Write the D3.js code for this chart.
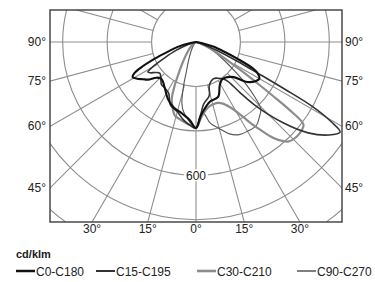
<!DOCTYPE html>
<html><head><meta charset="utf-8">
<script src="https://cdn.jsdelivr.net/npm/d3@7/dist/d3.min.js"></script>
<style>
html,body{margin:0;padding:0;background:#fff;}
svg{display:block;}
text{font-family:"Liberation Sans",Arial,Helvetica,sans-serif;fill:#222;}
</style></head>
<body>
<script>
// ---- data (gamma angle in degrees, intensity cd/klm) ----
const seriesNames = ["C0-C180", "C15-C195", "C30-C210", "C90-C270"];
// right half-planes (C0, C15, C30, C90)
const c0   = [[0,387],[4,330],[13,276],[22,266],[29,221],[35,205],[40,208],[47,232],[52,292],[57,322],[60,329],[63,312],[65,285],[68,200],[71,135],[75,80],[80,25],[86,0]];
const c15  = [[0,387],[4,322],[7,282],[14,248],[17,205],[25,183],[31,190],[36,205],[39,228],[41,300],[43,390],[47,530],[51,650],[55,730],[58,765],[59.5,705],[61,600],[62,455],[63,330],[65,205],[68,105],[72,35],[77,0]];
const c30  = [[0,387],[4,340],[8,310],[12,295],[16,290],[20,292],[24,305],[28,335],[32,395],[34,440],[36,485],[38,535],[40,575],[43,612],[47,622],[50,620],[52.5,610],[54,520],[55,420],[56,340],[57,280],[58,230],[60,160],[63,100],[67,50],[72,15],[78,0]];
const c90  = [[0,387],[3,335],[6,323],[10,371],[15,403],[20,440],[25,460],[30,464],[36,463],[40,443],[44,420],[47,360],[50,290],[53,220],[56,165],[60,115],[65,70],[70,35],[76,8],[82,0]];
// left half-planes (C180, C195, C210, C270)
const c180 = [[0,387],[5,350],[11,328],[19,311],[26,287],[34,251],[40,232],[44,228],[48,240],[52,275],[55,292],[58,312],[61,326],[63,312],[65,275],[68,200],[71,135],[75,85],[80,25],[86,0]];
const c195 = [[0,387],[3,380],[9,356],[15,325],[22,307],[28,262],[34,250],[39,247],[44,228],[49,215],[53,228],[56,248],[58,255],[60,228],[63,160],[67,100],[72,40],[79,0]];
const c210 = [[0,387],[4,375],[8,365],[12,355],[16,345],[20,310],[23,280],[26,220],[29,160],[33,110],[40,60],[50,25],[60,6],[70,0]];
const c270 = [[0,387],[3,370],[6,350],[10,320],[13,283],[16,200],[18,140],[22,90],[30,40],[45,10],[60,0]];
const rightPlanes = [c0, c15, c30, c90];
const leftPlanes  = [c180, c195, c210, c270];
const rings = [200, 400, 600, 800, 1000, 1200];
const ringLabel = 600;
const sideTicks = [90, 75, 60, 45];
const bottomTicks = [-30, -15, 0, 15, 30];
const unitLabel = "cd/klm";

// ---- styles ----
const colors = ["#111", "#333", "#8c8c8c", "#555"];
const widths = [2.1, 1.6, 2.2, 1.1];

const W = 375, H = 282;
const frame = {x0: 50, y0: 10, x1: 342, y1: 222};
const cx = 196, cy = 42;
const rad = Math.PI / 180;
const r = d3.scaleLinear().domain([0, 600]).range([0, 133.3]);
const pt = (g, v) => [cx + r(v) * Math.sin(g * rad), cy + r(v) * Math.cos(g * rad)];

const svg = d3.select("body").append("svg").attr("width", W).attr("height", H);
svg.append("defs").append("clipPath").attr("id", "fc").append("rect")
  .attr("x", frame.x0).attr("y", frame.y0)
  .attr("width", frame.x1 - frame.x0).attr("height", frame.y1 - frame.y0);

const plot = svg.append("g").attr("clip-path", "url(#fc)");
const grid = plot.append("g").attr("stroke", "#8e8e8e").attr("stroke-width", 1.1).attr("fill", "none");
grid.selectAll("circle").data(rings).join("circle")
  .attr("cx", cx).attr("cy", cy).attr("r", d => r(d));
grid.selectAll("line").data(d3.range(0, 360, 15)).join("line")
  .attr("x1", d => pt(d, rings[0])[0]).attr("y1", d => pt(d, rings[0])[1])
  .attr("x2", d => pt(d, 1600)[0]).attr("y2", d => pt(d, 1600)[1]);

// ring label with white background
const lp = pt(0, ringLabel);
plot.append("rect").attr("x", lp[0] - 12).attr("y", lp[1] - 6).attr("width", 24).attr("height", 12).attr("fill", "#fff");
svg.append("text").attr("x", lp[0]).attr("y", lp[1] + 4.5).attr("text-anchor", "middle")
  .attr("font-size", 12).text(ringLabel);

// curves
const line = d3.line().curve(d3.curveCatmullRom.alpha(0.5));
const order = [3, 2, 1, 0];
order.forEach(i => {
  const left = leftPlanes[i].slice().reverse().map(([g, v]) => pt(-g, v));
  const right = rightPlanes[i].slice(1).map(([g, v]) => pt(g, v));
  plot.append("path").attr("d", line(left.concat(right)))
    .attr("fill", "none").attr("stroke", colors[i]).attr("stroke-width", widths[i])
    .attr("stroke-linejoin", "round");
});

// frame
svg.append("rect").attr("x", frame.x0).attr("y", frame.y0)
  .attr("width", frame.x1 - frame.x0).attr("height", frame.y1 - frame.y0)
  .attr("fill", "none").attr("stroke", "#4a4a4a").attr("stroke-width", 1.5);

// side labels
sideTicks.forEach(g => {
  const y = cy + (frame.x1 - cx) / Math.tan(g * rad);
  svg.append("text").attr("x", frame.x0 - 4).attr("y", y + 4).attr("text-anchor", "end")
    .attr("font-size", 12).text(g + "°");
  svg.append("text").attr("x", frame.x1 + 3).attr("y", y + 4).attr("text-anchor", "start")
    .attr("font-size", 12).text(g + "°");
});
bottomTicks.forEach(g => {
  const x = cx + (frame.y1 - cy) * Math.tan(g * rad);
  svg.append("text").attr("x", x).attr("y", frame.y1 + 10.5).attr("text-anchor", "middle")
    .attr("font-size", 12).text(Math.abs(g) + "°");
});

// legend
svg.append("text").attr("x", 16).attr("y", 258).attr("font-size", 11).attr("font-weight", "bold").text(unitLabel);
const legX = [16, 96, 197, 297];
seriesNames.forEach((n, i) => {
  svg.append("line").attr("x1", legX[i]).attr("x2", legX[i] + 19).attr("y1", 271).attr("y2", 271)
    .attr("stroke", colors[i]).attr("stroke-width", widths[i] + 0.4);
  svg.append("text").attr("x", legX[i] + 20).attr("y", 275.5).attr("font-size", 12).text(n);
});
</script>
</body></html>
